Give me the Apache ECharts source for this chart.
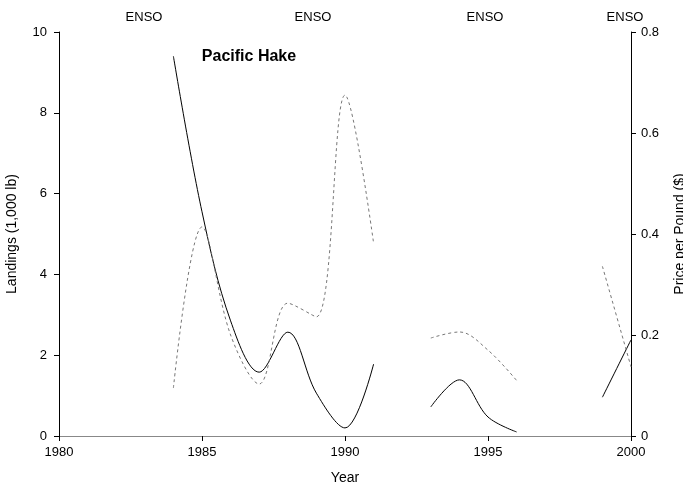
<!DOCTYPE html>
<html><head><meta charset="utf-8">
<script src="https://cdn.jsdelivr.net/npm/echarts@6/dist/echarts.min.js"></script>
<style>html,body{margin:0;padding:0;background:#fff}#c{width:683px;height:493px}</style>
</head><body><div id="c"></div>
<script>
const years = [1984,1985,1986,1987,1988,1989,1990,1991,1992,1993,1994,1995,1996,1997,1998,1999,2000];
const landings = [9.4,5.55,2.85,1.58,2.57,1.06,0.2,1.78,'-',0.72,1.39,0.47,0.1,'-','-',0.96,2.38];
const price = [0.095,0.414,0.2,0.103,0.263,0.236,0.675,0.382,'-',0.194,0.206,0.17,0.11,'-','-',0.336,0.137];
const ensoLabels = ['ENSO','ENSO','ENSO','ENSO'];
const ensoX = [144,313,485,625];
const font = 'Liberation Sans, Arial, sans-serif';

const chart = echarts.init(document.getElementById('c'));
chart.setOption({
  animation:false,
  backgroundColor:'#fff',
  grid:{left:59,right:52,top:32,bottom:57,containLabel:false,outerBoundsMode:'none'},
  graphic: ensoLabels.map((t,i)=>({type:'text',x:ensoX[i],y:17,style:{text:t,font:'13px '+font,fill:'#000',align:'center',verticalAlign:'middle'}})).concat([
    {type:'text',x:249,y:57,style:{text:'Pacific Hake',font:'bold 16px '+font,fill:'#000',align:'center',verticalAlign:'middle'}}
  ]),
  xAxis:[{
    type:'value',min:1980,max:2000,interval:5,
    name:'Year',nameLocation:'middle',nameGap:35,
    nameTextStyle:{fontFamily:font,fontSize:14,color:'#000'},
    axisLine:{lineStyle:{color:'#000',width:1}},
    axisTick:{length:5,lineStyle:{color:'#000'}},
    axisLabel:{margin:10,fontFamily:font,fontSize:13,color:'#000',formatter:v=>String(v)},
    splitLine:{show:false}
  },{
    type:'value',min:1980,max:2000,position:'top',
    axisLine:{show:true,lineStyle:{color:'#888',width:1}},
    axisTick:{show:false},axisLabel:{show:false},splitLine:{show:false}
  }],
  yAxis:[{
    type:'value',min:0,max:10,interval:2,
    name:'Landings (1,000 lb)',nameLocation:'middle',nameGap:40,
    nameTextStyle:{fontFamily:font,fontSize:14,color:'#000'},
    axisLine:{show:true,lineStyle:{color:'#000',width:1}},
    axisTick:{show:true,length:5,lineStyle:{color:'#000'}},
    axisLabel:{margin:12,fontFamily:font,fontSize:13,color:'#000'},
    splitLine:{show:false}
  },{
    type:'value',min:0,max:0.8,interval:0.2,position:'right',
    name:'Price per Pound ($)',nameLocation:'middle',nameGap:42,nameRotate:90,
    nameTextStyle:{fontFamily:font,fontSize:14,color:'#000'},
    axisLine:{show:true,lineStyle:{color:'#000',width:1}},
    axisTick:{show:true,length:5,lineStyle:{color:'#000'}},
    axisLabel:{margin:10,fontFamily:font,fontSize:13,color:'#000',formatter:v=>v===0?'0':v.toFixed(1)},
    splitLine:{show:false}
  }],
  series:[{
    type:'line',yAxisIndex:0,smooth:0.35,showSymbol:false,connectNulls:false,
    data:years.map((y,i)=>[y,landings[i]]),
    lineStyle:{color:'#000',width:1}
  },{
    type:'line',yAxisIndex:1,smooth:0.35,showSymbol:false,connectNulls:false,
    data:years.map((y,i)=>[y,price[i]]),
    lineStyle:{color:'#777',width:1,type:[3,3]}
  }]
});
</script></body></html>
